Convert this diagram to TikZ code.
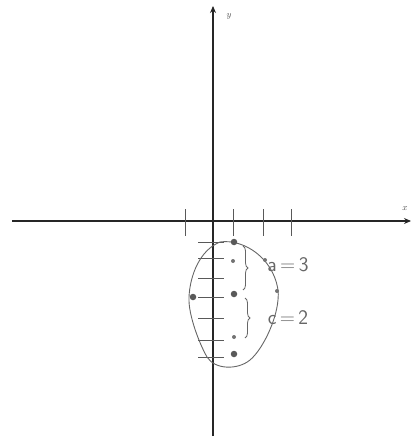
\documentclass[tikz,border=0pt]{standalone}
\usetikzlibrary{arrows.meta,decorations.pathreplacing}
\begin{document}
\begin{tikzpicture}[x=1pt,y=-1pt,
  axis/.style={line width=1.1pt,draw=black!85,-{Stealth[length=7pt,width=6pt]}},
  tickmark/.style={line width=1pt,draw=black!65},
  dotpt/.style={circle,fill=black!65,inner sep=0pt,minimum size=6.5pt},
  smalldot/.style={circle,fill=black!55,inner sep=0pt,minimum size=4pt},
  blob/.style={line width=0.9pt,draw=black!60},
  hand/.style={text=black!60,font=\sffamily\huge},
  bracestyle/.style={line width=0.8pt,draw=black!60,decorate,decoration={brace,amplitude=5pt}}]
\useasboundingbox (0,0) rectangle (413,438);
% axes
\coordinate (xl) at (12,221);
\coordinate (xr) at (411,221);
\coordinate (yb) at (213,436);
\coordinate (yt) at (213,6);
\draw[axis] (xl) -- (xr);
\draw[axis] (yb) -- (yt);
\node[font=\small,text=black!70] (ylab) at (229,16) {$y$};
\node[font=\small,text=black!70] (xlab) at (405,209) {$x$};
% x ticks
\foreach \t/\xx in {a/185,b/233,c/263,d/291}{
  \coordinate (t\t1) at (\xx,209);
  \coordinate (t\t2) at (\xx,236);
  \draw[tickmark] (t\t1) -- (t\t2);
}
% y ticks
\foreach \t/\yy in {a/242,b/258,c/278,d/297,e/318,f/340,g/357}{
  \coordinate (s\t1) at (198,\yy);
  \coordinate (s\t2) at (224,\yy);
  \draw[tickmark] (s\t1) -- (s\t2);
}
% blob
\draw[blob] (220,242) .. controls (232,240) and (250,245) .. (263,259)
  .. controls (272,268) and (280,285) .. (278,300)
  .. controls (276,322) and (262,350) .. (250,360)
  .. controls (238,370) and (215,370) .. (207,357)
  .. controls (200,345) and (188,315) .. (189,297)
  .. controls (190,275) and (200,250) .. (220,242) -- cycle;
% dots
\node[dotpt] (p1) at (234,242) {};
\node[smalldot] (p2) at (233,261) {};
\node[dotpt] (p3) at (234,294) {};
\node[dotpt] (p4) at (193,297) {};
\node[smalldot] (p5) at (277,291) {};
\node[smalldot] (p6) at (234,337) {};
\node[dotpt] (p7) at (234,354) {};
\node[smalldot] (p8) at (265,260) {};
% braces
\coordinate (b1t) at (243,246);
\coordinate (b1b) at (243,290);
\coordinate (b2t) at (245,298);
\coordinate (b2b) at (245,338);
\draw[bracestyle] (b1t) -- (b1b);
\draw[bracestyle] (b2t) -- (b2b);
\node[hand] (la) at (288,265) {a\,=\,3};
\node[hand] (lc) at (288,318) {c\,=\,2};
\end{tikzpicture}
\end{document}
